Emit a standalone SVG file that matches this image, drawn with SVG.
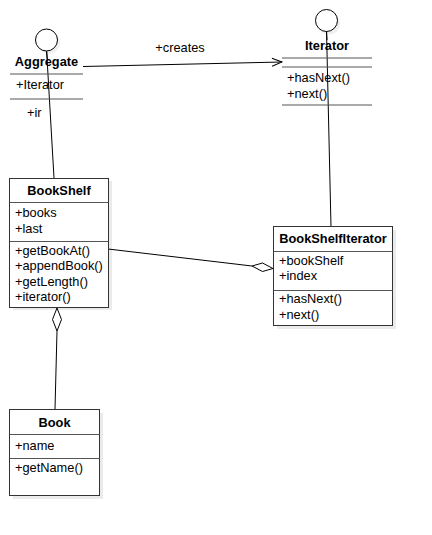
<svg xmlns="http://www.w3.org/2000/svg" width="432" height="535" viewBox="0 0 432 535">
<defs>
<style>
text{font-family:"Liberation Sans",Arial,sans-serif;font-size:12.8px;fill:#000}
.t{font-weight:bold;text-anchor:middle}
.box{fill:#fff;stroke:#333;stroke-width:1}
.sh{fill:#000;opacity:0.08}
.div{stroke:#555;stroke-width:1;fill:none}
.ln{stroke:#000;stroke-width:1;fill:none}
</style>
<marker id="open" markerWidth="12" markerHeight="10" refX="11" refY="5" orient="auto" markerUnits="userSpaceOnUse">
<path d="M1,1 L11,5 L1,9" fill="none" stroke="#000" stroke-width="1"/>
</marker>
</defs>
<rect width="432" height="535" fill="#fff"/>
<g id="connectors">
<line class="ln" x1="46.5" y1="49" x2="54" y2="178"/>
<line class="ln" x1="326.5" y1="30" x2="331" y2="227"/>
<line class="ln" x1="83" y1="66.5" x2="282" y2="62" marker-end="url(#open)"/>
<text x="180" y="52" text-anchor="middle">+creates</text>
<text x="27" y="117">+ir</text>
<line class="ln" x1="108" y1="249" x2="252" y2="266"/>
<path d="M273,268.5 L262.5,271.5 L252,266 L262.5,263 Z" fill="#fff" stroke="#000" stroke-width="1"/>
<line class="ln" x1="57" y1="331" x2="55" y2="409"/>
<path d="M57,308 L61.5,319.5 L57,331 L52.5,319.5 Z" fill="#fff" stroke="#000" stroke-width="1"/>
</g>
<g id="aggregate">
<circle cx="49" cy="43" r="11" fill="#000" opacity="0.06"/>
<circle cx="46.5" cy="40" r="11" fill="#fff" stroke="#000"/>
<line class="ln" x1="46.5" y1="51" x2="47.5" y2="60"/>
<text class="t" x="46.5" y="66">Aggregate</text>
<line class="div" x1="10" y1="74" x2="83" y2="74"/>
<text x="16" y="89">+Iterator</text>
<line class="div" x1="10" y1="99" x2="83" y2="99"/>
</g>
<g id="iterator">
<circle cx="329" cy="23.5" r="11" fill="#000" opacity="0.06"/>
<circle cx="326.5" cy="20.5" r="11" fill="#fff" stroke="#000"/>
<line class="ln" x1="326.5" y1="31.5" x2="327" y2="40"/>
<text class="t" x="327" y="50">Iterator</text>
<line class="div" x1="282" y1="58" x2="372" y2="58"/>
<line class="div" x1="282" y1="67" x2="372" y2="67"/>
<text x="287" y="82">+hasNext()</text>
<text x="287" y="98">+next()</text>
<line class="div" x1="282" y1="105" x2="372" y2="105"/>
</g>
<g id="bookshelf">
<rect class="sh" x="13" y="181" width="99" height="129"/>
<rect class="box" x="9.5" y="178.5" width="99" height="129"/>
<text class="t" x="59" y="195">BookShelf</text>
<line class="div" x1="9.5" y1="202.5" x2="108.5" y2="202.5"/>
<text x="15" y="217">+books</text>
<text x="15" y="233">+last</text>
<line class="div" x1="9.5" y1="241.5" x2="108.5" y2="241.5"/>
<text x="15" y="255">+getBookAt()</text>
<text x="15" y="270">+appendBook()</text>
<text x="15" y="286">+getLength()</text>
<text x="15" y="301">+iterator()</text>
</g>
<g id="bookshelfiterator">
<rect class="sh" x="277" y="230" width="119" height="99"/>
<rect class="box" x="273.5" y="226.5" width="119" height="99"/>
<text class="t" x="333" y="243">BookShelfIterator</text>
<line class="div" x1="273.5" y1="251.5" x2="392.5" y2="251.5"/>
<text x="279" y="265">+bookShelf</text>
<text x="279" y="280">+index</text>
<line class="div" x1="273.5" y1="290.5" x2="392.5" y2="290.5"/>
<text x="279" y="303">+hasNext()</text>
<text x="279" y="319">+next()</text>
</g>
<g id="book">
<rect class="sh" x="13" y="413" width="90" height="86"/>
<rect class="box" x="9.5" y="409.5" width="90" height="86"/>
<text class="t" x="54.5" y="427">Book</text>
<line class="div" x1="9.5" y1="434.5" x2="99.5" y2="434.5"/>
<text x="15" y="450">+name</text>
<line class="div" x1="9.5" y1="458.5" x2="99.5" y2="458.5"/>
<text x="15" y="472">+getName()</text>
</g>
</svg>
